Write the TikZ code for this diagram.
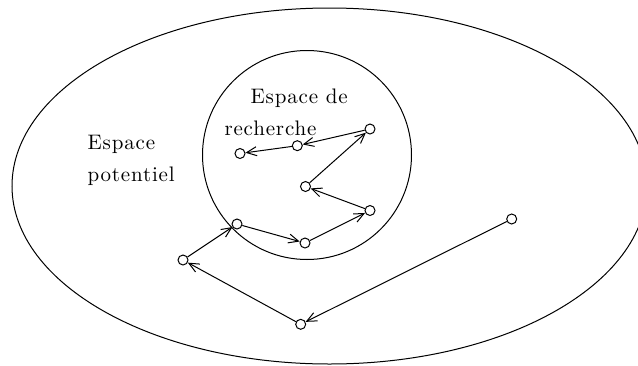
\documentclass[tikz,border=0pt]{standalone}
\usepackage{fontspec}
\setmainfont{Latin Modern Roman}[LetterSpace=4]
\usetikzlibrary{arrows.meta}
\begin{document}
\begin{tikzpicture}[x=0.5pt,y=-0.5pt,line width=0.5pt,
  pt/.style={circle,draw,minimum size=5pt,inner sep=0pt},
  mv/.style={-{Straight Barb[length=5pt,width=4.5pt]}},
  lbl/.style={anchor=base west,inner sep=0pt,font=\fontsize{10.5}{12}\selectfont}]
\useasboundingbox (0,0) rectangle (638,365);
\clip (0,0) rectangle (638,365);
\draw (329.5,186) ellipse [x radius=158.75pt, y radius=89pt];
\draw (307,155) circle [radius=52.25pt];
\node[lbl] (rs1) at (250,103.5) {Espace de};
\node[lbl] (rs2) at (224,135.5) {recherche};
\node[lbl] (pt1) at (87,149) {Espace};
\node[lbl] (pt2) at (87,181) {potentiel};
\node[pt] (A) at (240,153.5) {};
\node[pt] (B) at (297.3,145.7) {};
\node[pt] (C) at (370,129) {};
\node[pt] (D) at (305.5,186.5) {};
\node[pt] (E) at (370,210.5) {};
\node[pt] (F) at (305,243) {};
\node[pt] (G) at (237,224) {};
\node[pt] (H) at (183,260) {};
\node[pt] (I) at (300.7,324.3) {};
\node[pt] (J) at (511.7,219) {};
\draw[mv] (J) -- (I);
\draw[mv] (I) -- (H);
\draw[mv] (H) -- (G);
\draw[mv] (G) -- (F);
\draw[mv] (F) -- (E);
\draw[mv] (E) -- (D);
\draw[mv] (D) -- (C);
\draw[mv] (C) -- (B);
\draw[mv] (B) -- (A);
\end{tikzpicture}
\end{document}
